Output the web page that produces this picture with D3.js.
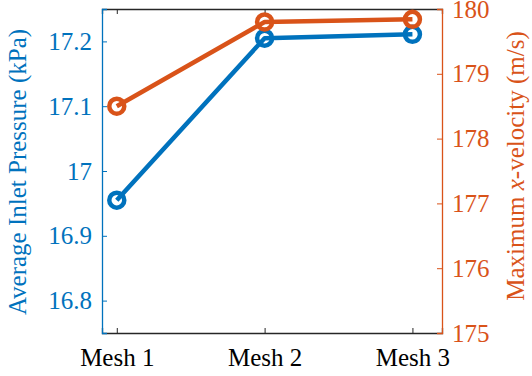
<!DOCTYPE html>
<html>
<head>
<meta charset="utf-8">
<script src="https://cdn.jsdelivr.net/npm/d3@7"></script>
<style>
  body { margin: 0; background: #fff; }
</style>
</head>
<body>
<svg id="chart" width="532" height="376" font-family="Liberation Serif"></svg>
<script>
// data
const meshes = ['Mesh 1', 'Mesh 2', 'Mesh 3'];
const pressure = [16.955, 17.205, 17.211];   // kPa, left axis
const velocity = [178.5, 179.8, 179.84];     // m/s, right axis
const pressureTicks = [16.8, 16.9, 17, 17.1, 17.2];
const velocityTicks = [175, 176, 177, 178, 179, 180];

const blue = '#0072BD';
const orange = '#D95319';
const dark = '#262626';
const serif = 'Liberation Serif';

const width = 532, height = 376;
const margin = { top: 9, right: 90, bottom: 43, left: 102 };
const innerWidth = width - margin.left - margin.right;
const innerHeight = height - margin.top - margin.bottom;

const svg = d3.select('#chart');
const g = svg.append('g').attr('transform', `translate(${margin.left},${margin.top})`);

const x = d3.scaleLinear().domain([0.9, 3.2]).range([0, innerWidth]);
const yL = d3.scaleLinear().domain([16.75, 17.25]).range([innerHeight, 0]);
const yR = d3.scaleLinear().domain([175, 180]).range([innerHeight, 0]);

const fontSize = 25;

function styleAxis(ax, color) {
  ax.attr('font-family', serif).attr('font-size', fontSize);
  ax.select('.domain').attr('stroke', color).attr('stroke-width', 1.3);
  ax.selectAll('.tick line').attr('stroke', color);
}

// bottom axis
const xAxis = g.append('g')
  .attr('transform', `translate(0,${innerHeight})`)
  .call(d3.axisBottom(x).tickValues([1, 2, 3]).tickFormat((d, i) => meshes[i]).tickSize(-5).tickPadding(15));
styleAxis(xAxis, dark);
xAxis.selectAll('.tick text').attr('fill', '#000');

// top border, ticks only
const xTop = g.append('g')
  .call(d3.axisTop(x).tickValues([1, 2, 3]).tickSize(-5));
styleAxis(xTop, dark);
xTop.selectAll('.tick text').remove();

// left axis
const leftAxis = g.append('g')
  .call(d3.axisLeft(yL).tickValues(pressureTicks).tickFormat(d3.format('')).tickSize(-5).tickPadding(10));
styleAxis(leftAxis, blue);
leftAxis.selectAll('.tick text').attr('fill', blue);

// right axis
const rightAxis = g.append('g')
  .attr('transform', `translate(${innerWidth},0)`)
  .call(d3.axisRight(yR).tickValues(velocityTicks).tickFormat(d3.format('d')).tickSize(-5).tickPadding(10));
styleAxis(rightAxis, orange);
rightAxis.selectAll('.tick text').attr('fill', orange);

// axis titles
svg.append('text')
  .attr('transform', `translate(26,${margin.top + innerHeight / 2 + 1}) rotate(-90)`)
  .attr('text-anchor', 'middle')
  .attr('fill', blue)
  .attr('font-family', serif)
  .attr('font-size', fontSize)
  .text('Average Inlet Pressure (kPa)');

const rt = svg.append('text')
  .attr('transform', `translate(524,${margin.top + innerHeight / 2 - 5}) rotate(-90)`)
  .attr('text-anchor', 'middle')
  .attr('fill', orange)
  .attr('font-family', serif)
  .attr('font-size', fontSize);
rt.append('tspan').text('Maximum ');
rt.append('tspan').attr('font-style', 'italic').text('x');
rt.append('tspan').text('-velocity (m/s)');

// series
const series = [
  { values: pressure, y: yL, color: blue },
  { values: velocity, y: yR, color: orange }
];

series.forEach(s => {
  const line = d3.line().x((d, i) => x(i + 1)).y(d => s.y(d));
  g.append('path')
    .datum(s.values)
    .attr('fill', 'none')
    .attr('stroke', s.color)
    .attr('stroke-width', 4.5)
    .attr('stroke-linejoin', 'round')
    .attr('d', line);
  g.selectAll(null)
    .data(s.values)
    .enter()
    .append('circle')
    .attr('cx', (d, i) => x(i + 1))
    .attr('cy', d => s.y(d))
    .attr('r', 7.5)
    .attr('fill', 'none')
    .attr('stroke', s.color)
    .attr('stroke-width', 4.5);
});
</script>
</body>
</html>
